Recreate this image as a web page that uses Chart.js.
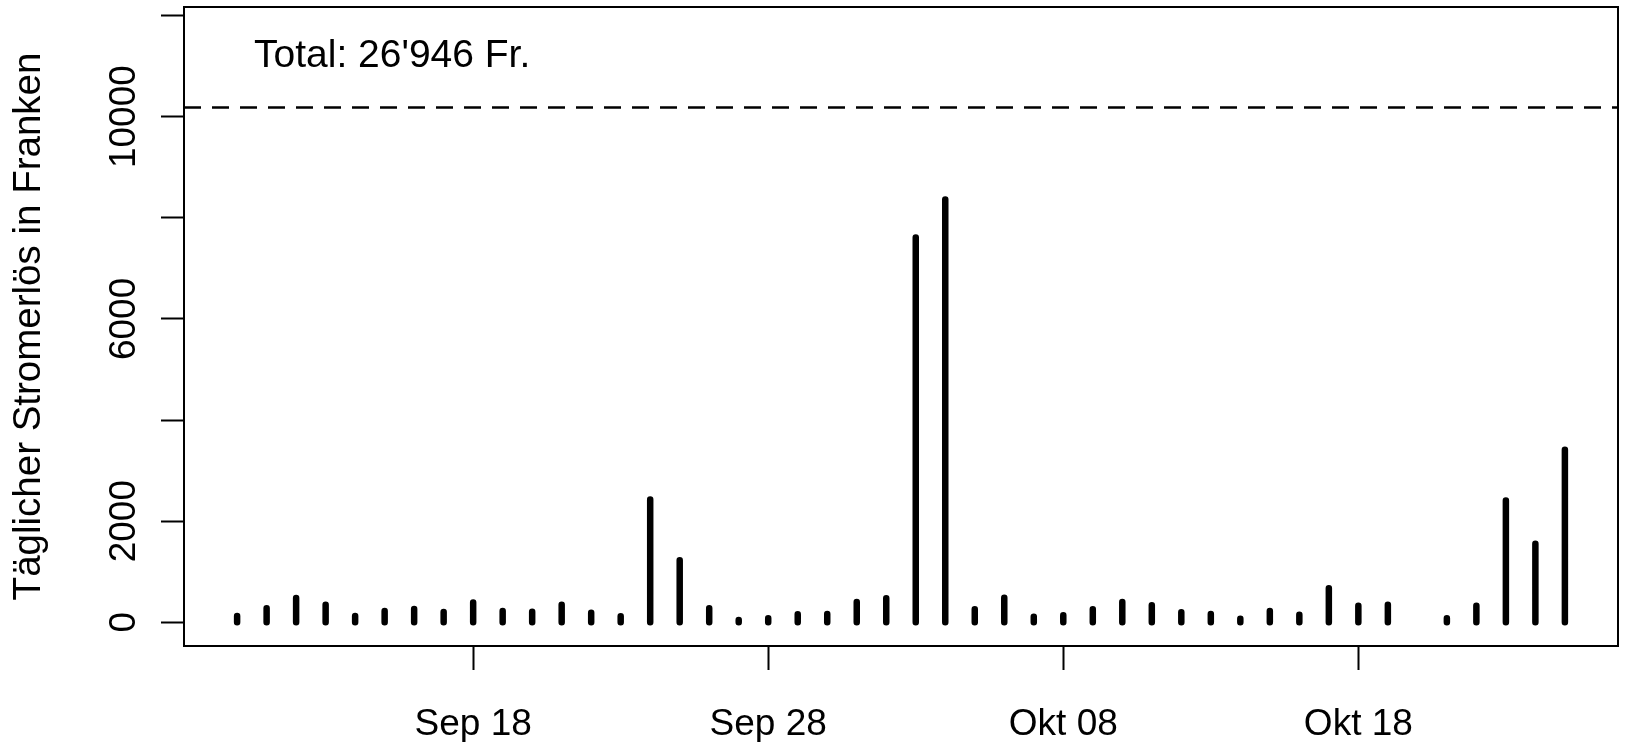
<!DOCTYPE html>
<html>
<head>
<meta charset="utf-8">
<script src="https://cdn.jsdelivr.net/npm/chart.js@4/dist/chart.umd.min.js"></script>
<style>
  html, body { margin: 0; padding: 0; background: #fff; }
  #wrap { width: 1625px; height: 742px; }
</style>
</head>
<body>
<div id="wrap"><canvas id="revenueChart" width="1625" height="742"></canvas></div>
<script>
// daily revenue (Fr.), one entry per day, Oct 20 has no value
const dates = [
  '09-10', '09-11', '09-12', '09-13', '09-14', '09-15', '09-16', '09-17', '09-18', '09-19',
  '09-20', '09-21', '09-22', '09-23', '09-24', '09-25', '09-26', '09-27', '09-28', '09-29',
  '09-30', '10-01', '10-02', '10-03', '10-04', '10-05', '10-06', '10-07', '10-08', '10-09',
  '10-10', '10-11', '10-12', '10-13', '10-14', '10-15', '10-16', '10-17', '10-18', '10-19',
  '10-21', '10-22', '10-23', '10-24', '10-25'
];
const revenue = [
  125, 277, 481, 349, 125, 224, 264, 204, 390, 224,
  211, 349, 191, 118, 2430, 1230, 277, 45, 79, 158,
  165, 402, 475, 7609, 8361, 260, 488, 112, 138, 257,
  402, 336, 198, 165, 73, 224, 152, 672, 330, 349,
  79, 330, 2407, 1556, 3415
];
const maxLine = 10180; // dashed reference line

const xTickDates = ['09-18', '09-28', '10-08', '10-18'];
const xTickLabels = ['Sep 18', 'Sep 28', 'Okt 08', 'Okt 18'];
const yTickValues = [0, 2000, 4000, 6000, 8000, 10000, 12000];
const yTickLabels = ['0', '2000', '', '6000', '', '10000', ''];
const totalText = "Total: 26'946 Fr.";
const yTitle = 'Täglicher Stromerlös in Franken';

// day number counted from the first date
function dayIndex(s) {
  const [m, d] = s.split('-').map(Number);
  const [m0, d0] = dates[0].split('-').map(Number);
  return Math.round((Date.UTC(2000, m - 1, d) - Date.UTC(2000, m0 - 1, d0)) / 86400000);
}

// each day becomes a vertical segment from 0 to the value (like R type="h")
const spikes = [];
dates.forEach((d, i) => {
  const x = dayIndex(d);
  spikes.push({ x: x, y: 0 }, { x: x, y: revenue[i] }, { x: x, y: null });
});

const lastDay = dayIndex(dates[dates.length - 1]);
const xPad = lastDay * 0.04;
const yMaxData = 11700;
const yPad = yMaxData * 0.04;

const FONT = '"Liberation Sans", Arial, Helvetica, sans-serif';

const framePlugin = {
  id: 'frame',
  afterDraw(chart) {
    const { ctx, chartArea: a, scales: { y } } = chart;
    ctx.save();
    ctx.strokeStyle = '#000';
    ctx.lineWidth = 2;
    ctx.strokeRect(a.left, a.top, a.right - a.left, a.bottom - a.top);

    ctx.fillStyle = '#000';
    ctx.font = '37px ' + FONT;
    yTickValues.forEach((v, i) => {
      if (!yTickLabels[i]) return;
      ctx.save();
      ctx.translate(a.left - 49, y.getPixelForValue(v));
      ctx.rotate(-Math.PI / 2);
      ctx.textAlign = 'center';
      ctx.textBaseline = 'alphabetic';
      ctx.fillText(yTickLabels[i], 0, 0);
      ctx.restore();
    });

    ctx.font = '39px ' + FONT;
    ctx.textAlign = 'left';
    ctx.textBaseline = 'alphabetic';
    ctx.fillText(totalText, a.left + 70, a.top + 60);
    ctx.restore();
  }
};

const ctx = document.getElementById('revenueChart').getContext('2d');
const chart = new Chart(ctx, {
  type: 'line',
  data: {
    datasets: [{
      label: 'Stromerlös',
      data: spikes,
      borderColor: '#000',
      borderWidth: 6.5,
      borderCapStyle: 'round',
      pointRadius: 0,
      spanGaps: false,
      tension: 0,
      fill: false
    }, {
      label: 'Maximum',
      data: [{ x: -xPad, y: maxLine }, { x: lastDay + xPad, y: maxLine }],
      borderColor: '#000',
      borderWidth: 2.5,
      borderDash: [17, 11],
      pointRadius: 0,
      fill: false
    }]
  },
  options: {
    responsive: false,
    animation: false,
    events: [],
    layout: { padding: { top: 7, right: 7, left: 0, bottom: 0 } },
    plugins: {
      legend: { display: false },
      tooltip: { enabled: false }
    },
    scales: {
      x: {
        type: 'linear',
        min: -xPad,
        max: lastDay + xPad,
        afterBuildTicks: (scale) => {
          scale.ticks = xTickDates.map(d => ({ value: dayIndex(d) }));
        },
        afterFit: (scale) => { scale.height = 96; },
        ticks: {
          color: '#000',
          font: { family: FONT, size: 37 },
          padding: 33,
          maxRotation: 0,
          autoSkip: false,
          callback: (value) => {
            const i = xTickDates.findIndex(d => dayIndex(d) === value);
            return i >= 0 ? xTickLabels[i] : '';
          }
        },
        grid: {
          drawOnChartArea: false,
          drawTicks: true,
          tickLength: 24,
          tickWidth: 2,
          tickColor: '#000'
        },
        border: { display: false }
      },
      y: {
        min: -yPad,
        max: yMaxData + yPad,
        afterBuildTicks: (scale) => {
          scale.ticks = yTickValues.map(v => ({ value: v }));
        },
        afterFit: (scale) => { scale.width = 184; },
        ticks: { display: false },
        grid: {
          drawOnChartArea: false,
          drawTicks: true,
          tickLength: 23,
          tickWidth: 2,
          tickColor: '#000'
        },
        border: { display: false },
        title: {
          display: true,
          text: yTitle,
          color: '#000',
          font: { family: FONT, size: 38.5 },
          padding: { top: 6, bottom: 0 }
        }
      }
    }
  },
  plugins: [framePlugin]
});
</script>
</body>
</html>
